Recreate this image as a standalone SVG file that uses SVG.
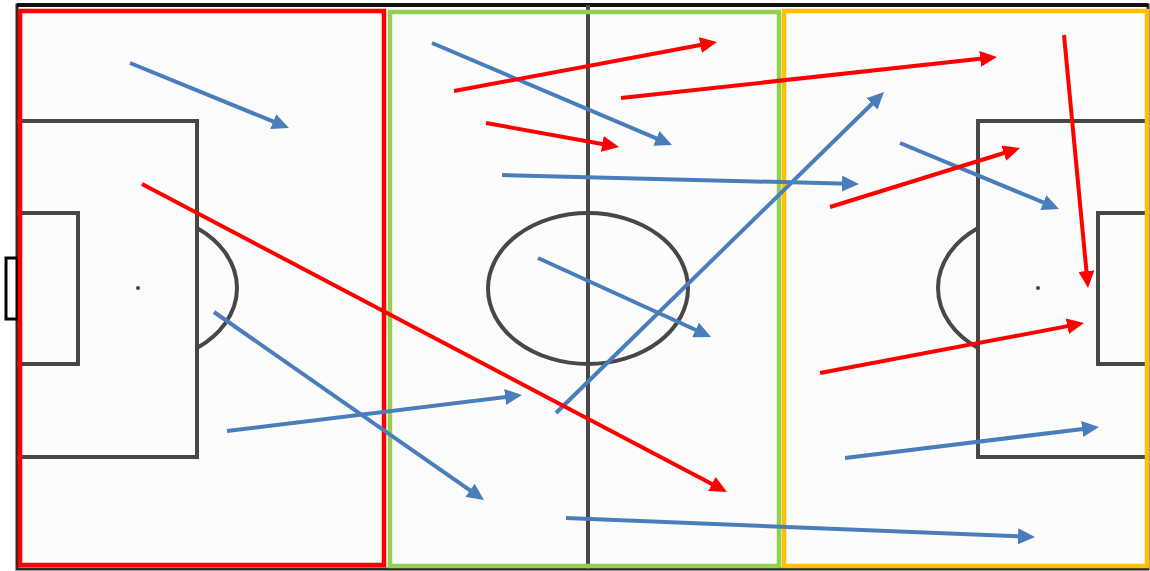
<svg xmlns="http://www.w3.org/2000/svg" width="1150" height="571" viewBox="0 0 1150 571">
<style>
.pl{fill:none;stroke:#474747;stroke-width:4}
.zone{fill:none;stroke-width:4.5}
.b{stroke:#4A7EBB;stroke-width:4;fill:none;marker-end:url(#ab)}
.r{stroke:#FF0000;stroke-width:4;fill:none;marker-end:url(#ar)}
</style>
<defs>
<marker id="ab" markerUnits="userSpaceOnUse" markerWidth="18" markerHeight="16" viewBox="0 0 18 16" refX="7" refY="8" orient="auto"><path d="M0,0 L17,8 L0,16 z" fill="#4A7EBB"/></marker>
<marker id="ar" markerUnits="userSpaceOnUse" markerWidth="18" markerHeight="16" viewBox="0 0 18 16" refX="7" refY="8" orient="auto"><path d="M0,0 L17,8 L0,16 z" fill="#FF0000"/></marker>
</defs>
<rect width="1150" height="571" fill="#ffffff"/>
<g id="pitch">
<rect x="17" y="5" width="1131" height="564" fill="#fcfcfc" stroke="#2a2a2a" stroke-width="3"/>
<line x1="17" y1="5" x2="1148" y2="5" stroke="#111" stroke-width="4"/>
<line x1="588" y1="5" x2="588" y2="569" class="pl"/>
<ellipse cx="588" cy="288.5" rx="100" ry="75.5" class="pl"/>
<path class="pl" d="M17,121 H197 V457 H17"/>
<path class="pl" d="M17,213 H78 V364 H17"/>
<path class="pl" d="M197,228 A100,75 0 0 1 197,348"/>
<circle cx="138" cy="288" r="2" fill="#474747"/>
<path class="pl" d="M1148,121 H978 V457 H1148"/>
<path class="pl" d="M1148,213 H1098 V364 H1148"/>
<path class="pl" d="M978,228 A100,75 0 0 0 978,348"/>
<circle cx="1038" cy="288" r="2" fill="#474747"/>
<rect x="6" y="258" width="11" height="61" fill="#fff" stroke="#000" stroke-width="3"/>
</g>
<g id="zone-defensive"><rect class="zone" x="20" y="11" width="364" height="554" stroke="#FF0000"/></g>
<g id="zone-middle"><rect class="zone" x="390" y="12" width="389" height="554" stroke="#92D050"/></g>
<g id="zone-attacking"><rect class="zone" x="784" y="11" width="363" height="555" stroke="#FFC000"/></g>
<g id="connectors">
<line class="b" x1="130" y1="63" x2="279.7" y2="124.2"/>
<line class="b" x1="432" y1="43" x2="662.8" y2="141.1"/>
<line class="b" x1="502" y1="175" x2="849" y2="183.8"/>
<line class="b" x1="538" y1="258" x2="701.9" y2="332.8"/>
<line class="b" x1="214" y1="312" x2="475.8" y2="494.3"/>
<line class="b" x1="227" y1="431" x2="512.1" y2="396.2"/>
<line class="b" x1="556" y1="413" x2="876.9" y2="99"/>
<line class="b" x1="900" y1="143" x2="1049.8" y2="205.2"/>
<line class="b" x1="845" y1="458" x2="1089.1" y2="428.2"/>
<line class="b" x1="566" y1="518" x2="1025" y2="536.6"/>
<line class="r" x1="454" y1="91" x2="707.2" y2="43.8"/>
<line class="r" x1="621" y1="98" x2="987.1" y2="58.1"/>
<line class="r" x1="486" y1="123" x2="609.2" y2="145.2"/>
<line class="r" x1="142" y1="184" x2="718.1" y2="487.3"/>
<line class="r" x1="830" y1="207" x2="1010.5" y2="151"/>
<line class="r" x1="1064" y1="35" x2="1087.1" y2="278"/>
<line class="r" x1="820" y1="373" x2="1074.2" y2="324.9"/>
</g>
</svg>
